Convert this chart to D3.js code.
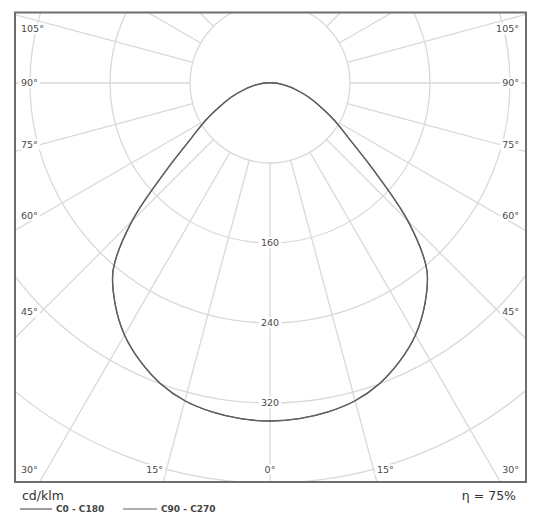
<!DOCTYPE html>
<html>
<head>
<meta charset="utf-8">
<script src="https://cdn.jsdelivr.net/npm/d3@7"></script>
<style>
  html, body { margin: 0; padding: 0; background: #fff; }
  svg { display: block; }
</style>
</head>
<body>
<svg id="chart" width="543" height="530"></svg>
<script>
// Luminous intensity distribution, cd/klm, by angle from nadir (degrees)
const gammaAngles = [0, 5, 10, 15, 20, 25, 30, 35, 40, 45, 50, 55, 60, 65, 70, 75, 80, 85, 90];
const c0c180  = [338, 337, 334, 329, 320, 307, 291, 270, 244, 195, 135, 96, 74, 55, 41, 28, 18, 10, 4];
const c90c270 = [338, 337, 334, 329, 320, 307, 291, 270, 244, 195, 135, 96, 74, 55, 41, 28, 18, 10, 4];

// Grid: intensity rings, radial spokes and their labels
const ringValues = [80, 160, 240, 320, 400];
const ringLabels = [160, 240, 320];
const spokeAngles = d3.range(0, 360, 15);
const sideLabelAngles = [30, 45, 60, 75, 90, 105];
const bottomLabelAngles = [0, 15];

const seriesNames = ["C0 - C180", "C90 - C270"];
const efficiencyText = "η = 75%";
const unitText = "cd/klm";

const svg = d3.select("#chart");
const frame = { x0: 15, y0: 12.5, x1: 526, y1: 482 };
const cx = 270, cy = 83;
const rScale = d3.scaleLinear().domain([0, 400]).range([0, 400]);
const toRad = d => d * Math.PI / 180;

const gridColor = "#d9d9d9";
const curveColor = "#5f5f5f";
const labelColor = "#4a4a4a";
const labelFont = "DejaVu Sans, Verdana, sans-serif";

svg.append("rect").attr("width", 543).attr("height", 530).attr("fill", "#fff");

svg.append("defs").append("clipPath").attr("id", "plotClip")
  .append("rect")
  .attr("x", frame.x0).attr("y", frame.y0)
  .attr("width", frame.x1 - frame.x0).attr("height", frame.y1 - frame.y0);

const plot = svg.append("g").attr("clip-path", "url(#plotClip)");
const grid = plot.append("g").attr("transform", `translate(${cx},${cy})`);

// Spokes start at the innermost ring
grid.selectAll("line.spoke").data(spokeAngles).join("line")
  .attr("class", "spoke")
  .attr("x1", d => rScale(80) * Math.sin(toRad(d)))
  .attr("y1", d => rScale(80) * Math.cos(toRad(d)))
  .attr("x2", d => rScale(700) * Math.sin(toRad(d)))
  .attr("y2", d => rScale(700) * Math.cos(toRad(d)))
  .attr("stroke", gridColor).attr("stroke-width", 1.3);

grid.selectAll("circle.ring").data(ringValues).join("circle")
  .attr("class", "ring")
  .attr("r", d => rScale(d))
  .attr("fill", "none")
  .attr("stroke", gridColor).attr("stroke-width", 1.3);

// Labels with white backing boxes
const labelLayer = svg.append("g");
function boxedLabel(x, y, text, anchor) {
  const g = labelLayer.append("g");
  const t = g.append("text")
    .attr("x", x).attr("y", y)
    .attr("dy", "0.35em")
    .attr("text-anchor", anchor)
    .attr("font-family", labelFont)
    .attr("font-size", 9.5)
    .attr("fill", labelColor)
    .text(text);
  const b = t.node().getBBox();
  g.insert("rect", "text")
    .attr("x", b.x - 2).attr("y", b.y)
    .attr("width", b.width + 4).attr("height", b.height)
    .attr("fill", "#fff");
}

ringLabels.forEach(v => boxedLabel(cx, cy + rScale(v), String(v), "middle"));

const sideInsetL = 21, sideInsetR = 519, rayX = 41;
const labelTop = 29, labelBottom = 470;
sideLabelAngles.forEach(a => {
  const dy = (cx - rayX) / Math.tan(toRad(a));
  const y = Math.max(labelTop, Math.min(labelBottom, cy + (Math.abs(a - 90) < 1e-9 ? 0 : dy)));
  boxedLabel(sideInsetL, y, a + "°", "start");
  boxedLabel(sideInsetR, y, a + "°", "end");
});
bottomLabelAngles.forEach(a => {
  const dx = (frame.y1 - cy) * Math.tan(toRad(a));
  if (a === 0) {
    boxedLabel(cx, labelBottom, a + "°", "middle");
  } else {
    boxedLabel(cx - dx, labelBottom, a + "°", "end");
    boxedLabel(cx + dx, labelBottom, a + "°", "start");
  }
});

// Intensity curves: right half (C0 / C90) and mirrored left half (C180 / C270)
function polarPoints(values) {
  const pts = [];
  for (let i = gammaAngles.length - 1; i >= 0; i--) {
    pts.push({ a: Math.PI - toRad(gammaAngles[i]), r: rScale(values[i]) });
  }
  for (let i = 1; i < gammaAngles.length; i++) {
    pts.push({ a: Math.PI + toRad(gammaAngles[i]), r: rScale(values[i]) });
  }
  return pts;
}
const radial = d3.lineRadial()
  .angle(d => d.a)
  .radius(d => d.r)
  .curve(d3.curveCatmullRomClosed.alpha(0.5));

const curves = plot.append("g").attr("transform", `translate(${cx},${cy})`);
[c90c270, c0c180].forEach(vals => {
  curves.append("path")
    .attr("d", radial(polarPoints(vals)))
    .attr("fill", "none")
    .attr("stroke", curveColor)
    .attr("stroke-width", 1.3);
});

// Frame
svg.append("rect")
  .attr("x", frame.x0).attr("y", frame.y0)
  .attr("width", frame.x1 - frame.x0).attr("height", frame.y1 - frame.y0)
  .attr("fill", "none")
  .attr("stroke", "#6e6e6e").attr("stroke-width", 2);

// Footer: unit, legend, efficiency
svg.append("text")
  .attr("x", 22).attr("y", 500)
  .attr("font-family", labelFont).attr("font-size", 12.5)
  .attr("fill", "#333").text(unitText);

const legendItems = [
  { name: seriesNames[0], x1: 20, x2: 52 },
  { name: seriesNames[1], x1: 123, x2: 157 }
];
const legend = svg.append("g");
legendItems.forEach(d => {
  legend.append("line")
    .attr("x1", d.x1).attr("x2", d.x2).attr("y1", 509).attr("y2", 509)
    .attr("stroke", curveColor).attr("stroke-width", 1.2);
  legend.append("text")
    .attr("x", d.x2 + 4).attr("y", 509).attr("dy", "0.35em")
    .attr("font-family", labelFont).attr("font-size", 9)
    .attr("font-weight", "bold")
    .attr("fill", "#444").text(d.name);
});

svg.append("text")
  .attr("x", 516).attr("y", 500)
  .attr("text-anchor", "end")
  .attr("font-family", labelFont).attr("font-size", 12.5)
  .attr("fill", "#333").text(efficiencyText);
</script>
</body>
</html>
